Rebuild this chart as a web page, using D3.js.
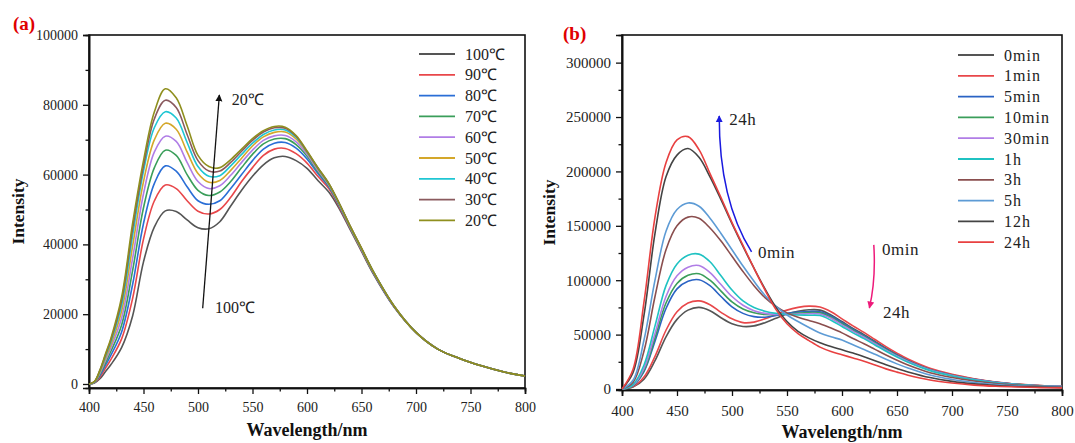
<!DOCTYPE html>
<html lang="en">
<head>
<meta charset="UTF-8" />
<title>Emission spectra</title>
<script src="https://d3js.org/d3.v7.min.js"></script>
<style>
  body { margin: 0; background: #fff; }
  svg text { font-family: "Liberation Serif", "Times New Roman", serif; }
</style>
</head>
<body>
<svg id="chart" width="1075" height="443"></svg>
<script>
// ---- panel (a): temperature series ----
var wlA = [400,405,410,415,420,430,440,450,460,470,480,490,500,510,520,530,540,550,560,570,580,590,600,610,620,630,640,650,660,680,700,720,740,760,780,800];
var a100 = [0,300,1500,3500,5500,10500,19500,35000,45000,49600,49400,47000,44800,44500,46500,51000,55500,59500,62800,64800,65200,64000,61800,58300,55000,50000,44000,38000,32000,22000,14800,10000,7300,5200,3500,2300];
var a90 = [0,400,2000,4500,7000,13000,24500,41500,52500,57000,56000,52500,49500,48700,50000,53500,58000,62000,65500,67300,67500,66000,63300,59500,56000,50500,44300,38200,32200,22100,14800,10000,7300,5200,3500,2300];
var a80 = [0,450,2400,5300,8200,15000,28500,46000,57500,62500,61000,56500,52500,51500,52500,56000,60000,64000,67300,69000,69200,67600,64500,60300,56500,50800,44500,38400,32300,22100,14800,10000,7300,5200,3500,2300];
var a70 = [0,500,2800,6000,9300,17000,32500,50500,62000,67000,65500,60000,55500,54000,55000,58000,62000,65800,68800,70200,70300,68600,65300,60800,56800,51000,44600,38500,32400,22200,14800,10000,7300,5200,3500,2300];
var a60 = [0,550,3100,6700,10300,19000,36000,54500,66500,71000,69500,63500,58000,56000,56800,59800,63500,67000,69800,71100,71200,69400,65800,61200,57000,51200,44700,38600,32500,22200,14800,10000,7300,5200,3500,2300];
var a50 = [0,600,3400,7300,11200,21000,39500,58000,70000,74700,73000,66500,60300,57800,58300,61200,64700,68200,70800,72100,72200,70200,66300,61600,57200,51300,44800,38700,32600,22300,14800,10000,7300,5200,3500,2300];
var a40 = [0,650,3700,7800,12000,22700,42500,61000,73500,78000,76200,69200,62300,59500,59700,62500,65800,69000,71500,72800,72800,70700,66500,61800,57300,51400,44900,38800,32700,22300,14800,10000,7300,5200,3500,2300];
var a30 = [0,700,3900,8200,12500,24000,44500,62500,76000,81300,79200,71500,64000,61000,61000,63500,66700,69800,72200,73400,73300,71000,66600,61900,57400,51500,45000,38900,32700,22300,14800,10000,7300,5200,3500,2300];
var a20 = [0,700,4000,8500,13000,25000,46000,64000,78000,84600,82000,74000,65500,62300,62000,64300,67300,70300,72600,73800,73600,71200,66800,62000,57500,51500,45000,38900,32700,22300,14800,10000,7300,5200,3500,2300];
var namesA = ["100℃","90℃","80℃","70℃","60℃","50℃","40℃","30℃","20℃"];
var colorsA = ["#555555","#e8474a","#2a6ed6","#3a9e5a","#b07de6","#d4a72a","#1fc6d3","#8a5a5e","#8f8f1e"];
var valuesA = [a100,a90,a80,a70,a60,a50,a40,a30,a20];

// ---- panel (b): time series ----
var wlB = [400,410,420,430,440,450,460,470,480,490,500,510,520,530,540,550,560,570,580,590,600,610,620,630,640,650,660,680,700,720,740,760,780,800];
var b0 = [0,1800,9000,26000,48000,64000,72500,75000,72000,65500,60000,57500,58000,61000,65000,69000,71500,72800,72500,68000,62000,55700,50000,43700,37400,31700,26400,18200,13000,9100,6200,4300,3100,2300];
var b1 = [0,2200,11000,30000,54000,71000,79000,81000,77500,70500,64500,61000,61500,64500,68500,72500,75000,76200,75300,71000,64500,58000,52000,45500,39000,33000,27500,19000,13500,9500,6500,4500,3200,2400];
var b5 = [0,3000,16000,44000,74000,92000,99000,100400,95000,85000,75500,69500,66500,66000,67500,69500,70800,71300,71000,67100,61000,54800,49100,43000,36900,31200,26000,17900,12700,8900,6100,4200,3000,2300];
var b10 = [0,3200,17000,47000,79000,97000,104500,106000,100000,90000,80000,73500,70000,68500,68500,69000,69700,70200,70000,66000,60000,53900,48400,42300,36300,30700,25600,17700,12500,8800,6000,4200,3000,2200];
var b30 = [0,3500,19000,51000,85000,104000,112000,113500,107000,96000,85000,77000,72000,69500,68500,68500,69000,69200,69000,65000,59000,53000,47600,41600,35700,30200,25200,17400,12300,8600,5900,4100,2900,2200];
var b1h = [0,4000,22000,58000,95000,115000,123000,124000,117000,104000,91000,81000,75000,71500,69500,68500,68000,67800,67500,63200,57400,51600,46300,40500,34700,29400,24500,16900,12000,8400,5800,4000,2800,2100];
var b3h = [0,6000,35000,85000,128000,150000,158000,157000,148000,136000,122000,108000,95000,84000,76000,70000,66000,63000,60000,56000,51600,46400,41600,36400,31200,26400,22000,15000,10500,7300,5000,3500,2500,1900];
var b5h = [0,8000,45000,100000,145000,165000,171000,168000,157000,143000,128000,113000,99000,86000,76000,68000,62000,56500,51500,48000,45000,40600,36400,31900,27300,23100,19300,12800,8800,6000,4100,2900,2100,1600];
var b12h = [0,15000,68000,143000,195000,215000,221000,213000,195000,174000,152000,131000,111000,92000,75000,62000,53000,47000,42500,39000,36000,33000,29600,26000,22200,18800,15700,10500,7000,4700,3200,2300,1700,1300];
var b24h = [0,18000,80000,158000,208000,229000,232000,220000,198000,176000,153000,132000,111000,91000,73000,60000,51000,44500,38500,34500,31500,28500,25500,22000,18500,15500,12700,8300,5500,3600,2500,1800,1300,1000];
var namesB = ["0min","1min","5min","10min","30min","1h","3h","5h","12h","24h"];
var colorsB = ["#555555","#e8474a","#2a63c4","#3a9e5a","#b07de6","#1fc2c2","#8a4e4e","#5d9bd5","#444444","#e84040"];
var valuesB = [b0,b1,b5,b10,b30,b1h,b3h,b5h,b12h,b24h];

var xTicks = [400,450,500,550,600,650,700,750,800];

var svg = d3.select("#chart");
svg.append("rect").attr("width", 1075).attr("height", 443).attr("fill", "#fff");

var defs = svg.append("defs");
function marker(id, color) {
  defs.append("marker")
    .attr("id", id)
    .attr("viewBox", "0 0 10 10")
    .attr("refX", 9).attr("refY", 5)
    .attr("markerUnits", "userSpaceOnUse")
    .attr("markerWidth", 7).attr("markerHeight", 10)
    .attr("orient", "auto")
    .append("path").attr("d", "M0,0 L10,5 L0,10 Z").attr("fill", color);
}
marker("arrBlack", "#111");
marker("arrBlue", "#1a1adf");
marker("arrPink", "#ee1a7a");

function drawPanel(p) {
  var x = d3.scaleLinear().domain([400, 800]).range([p.left, p.right]);
  var y = d3.scaleLinear().domain(p.yDomain).range([p.bottom, p.top]);
  var g = svg.append("g");

  // minor ticks first, then major ticks with labels
  g.append("g").attr("transform", "translate(0," + p.bottom + ")")
    .call(d3.axisBottom(x).tickValues(d3.range(425, 800, 50)).tickSize(3.5).tickFormat(""));
  g.append("g").attr("transform", "translate(" + p.left + ",0)")
    .call(d3.axisLeft(y).tickValues(p.yMinor).tickSize(3.5).tickFormat(""));

  g.append("g").attr("transform", "translate(0," + p.bottom + ")")
    .call(d3.axisBottom(x).tickValues(xTicks).tickSize(6).tickPadding(p.xPad));
  g.append("g").attr("transform", "translate(" + p.left + ",0)")
    .call(d3.axisLeft(y).tickValues(p.yTicks).tickSize(6).tickPadding(5).tickFormat(d3.format("d")));

  g.selectAll(".tick line").attr("stroke", "#111").attr("stroke-width", 1.3);
  g.selectAll(".domain").attr("stroke", "#111").attr("stroke-width", 1.6);
  g.selectAll(".tick text")
    .attr("font-family", "Liberation Serif, serif")
    .attr("font-size", p.tickFont)
    .attr("fill", "#222");

  // frame
  g.append("rect")
    .attr("x", p.left).attr("y", p.top)
    .attr("width", p.right - p.left).attr("height", p.bottom - p.top)
    .attr("fill", "none").attr("stroke", "#111").attr("stroke-width", 1.6);

  var line = d3.line()
    .x(function (d) { return x(d[0]); })
    .y(function (d) { return y(d[1]); })
    .curve(d3.curveCatmullRom.alpha(0.5));

  p.values.forEach(function (vals, i) {
    g.append("path")
      .datum(p.wl.map(function (w, j) { return [w, vals[j]]; }))
      .attr("fill", "none")
      .attr("stroke", p.colors[i])
      .attr("stroke-width", 1.6)
      .attr("d", line);
  });

  // legend
  var lg = g.append("g");
  p.names.forEach(function (n, i) {
    var ly = p.legY + i * 20.8;
    lg.append("line")
      .attr("x1", p.legX).attr("x2", p.legX + 36)
      .attr("y1", ly).attr("y2", ly)
      .attr("stroke", p.colors[i]).attr("stroke-width", 1.8);
    lg.append("text")
      .attr("x", p.legX + 46).attr("y", ly + 5.5)
      .attr("font-size", 16)
      .attr("letter-spacing", p.legSpacing)
      .attr("fill", "#222")
      .text(n);
  });

  // axis titles
  g.append("text")
    .attr("transform", "translate(" + p.yTitleX + "," + (p.top + p.bottom) / 2 + ") rotate(-90)")
    .attr("text-anchor", "middle")
    .attr("font-weight", "bold").attr("font-size", 17.5).attr("fill", "#111")
    .text("Intensity");
  g.append("text")
    .attr("x", (p.left + p.right) / 2).attr("y", p.xTitleY)
    .attr("text-anchor", "middle")
    .attr("font-weight", "bold").attr("font-size", 18).attr("fill", "#111")
    .text("Wavelength/nm");

  g.append("text")
    .attr("x", p.tagX).attr("y", p.tagY)
    .attr("font-weight", "bold").attr("font-size", 19).attr("fill", "#e00000")
    .text(p.tag);

  return { x: x, y: y, g: g };
}

var pa = drawPanel({
  left: 89, right: 525, top: 35, bottom: 388,
  yDomain: [-1150, 100000],
  yTicks: d3.range(0, 100001, 20000),
  yMinor: d3.range(10000, 100000, 20000),
  wl: wlA, values: valuesA, names: namesA, colors: colorsA,
  tickFont: 14, xPad: 8,
  legX: 419, legY: 54, legSpacing: 0,
  yTitleX: 24, xTitleY: 436,
  tag: "(a)", tagX: 13, tagY: 30
});

var pb = drawPanel({
  left: 622, right: 1062, top: 35, bottom: 390,
  yDomain: [-920, 325400],
  yTicks: d3.range(0, 300001, 50000),
  yMinor: d3.range(25000, 325000, 50000),
  wl: wlB, values: valuesB, names: namesB, colors: colorsB,
  tickFont: 15, xPad: 9,
  legX: 958, legY: 55, legSpacing: 1,
  yTitleX: 555, xTitleY: 438,
  tag: "(b)", tagX: 563, tagY: 40
});

// annotations, panel (a)
pa.g.append("line")
  .attr("x1", pa.x(504.3)).attr("y1", pa.y(21700))
  .attr("x2", pa.x(519.6)).attr("y2", pa.y(82800))
  .attr("stroke", "#111").attr("stroke-width", 1.3)
  .attr("marker-end", "url(#arrBlack)");
pa.g.append("text").attr("x", pa.x(531)).attr("y", pa.y(79900))
  .attr("font-size", 16).attr("fill", "#222").text("20℃");
pa.g.append("text").attr("x", pa.x(515.6)).attr("y", pa.y(20200))
  .attr("font-size", 16).attr("fill", "#222").text("100℃");

// annotations, panel (b)
function curvedArrow(p, pts, color, id) {
  var path = d3.path();
  path.moveTo(p.x(pts[0][0]), p.y(pts[0][1]));
  path.quadraticCurveTo(p.x(pts[1][0]), p.y(pts[1][1]), p.x(pts[2][0]), p.y(pts[2][1]));
  p.g.append("path").attr("d", path.toString())
    .attr("fill", "none").attr("stroke", color).attr("stroke-width", 1.5)
    .attr("marker-end", "url(#" + id + ")");
}
curvedArrow(pb, [[517.8, 126000], [488.2, 173900], [488.4, 251000]], "#1a1adf", "arrBlue");
curvedArrow(pb, [[628.9, 132500], [630.9, 100500], [624.9, 74500]], "#ee1a7a", "arrPink");

[["24h", 497.6, 242900], ["0min", 523.6, 120500], ["0min", 636.4, 123300], ["24h", 637.3, 65300]]
  .forEach(function (t) {
    pb.g.append("text").attr("x", pb.x(t[1])).attr("y", pb.y(t[2]))
      .attr("font-size", 17).attr("letter-spacing", 0.5).attr("fill", "#222").text(t[0]);
  });
</script>
</body>
</html>
